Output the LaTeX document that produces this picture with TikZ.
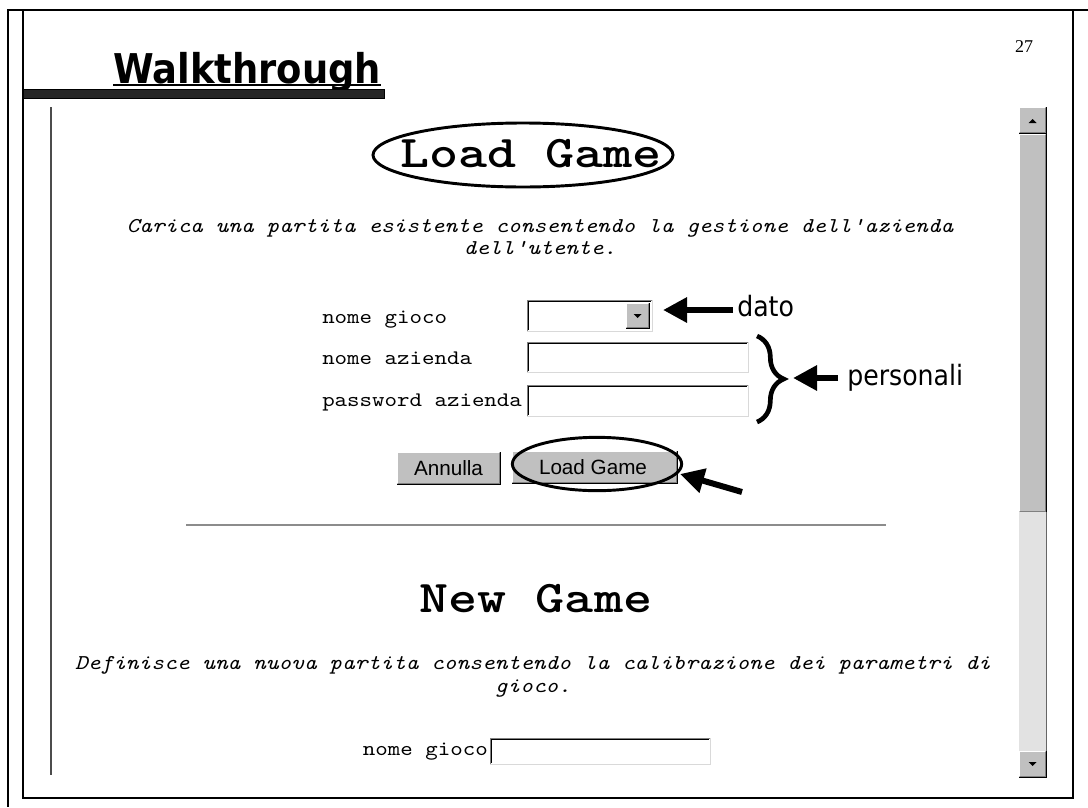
\documentclass[tikz,border=0pt]{standalone}
\usepackage{fontspec}
\setmainfont{Liberation Serif}
\newfontfamily\slidefont[FakeStretch=0.9]{DejaVu Sans}
\newfontfamily\webmono[Extension=.otf, UprightFont=lmmono10-regular,
  ItalicFont=lmmono10-italic, BoldFont=lmmonolt10-bold, FakeStretch=1.15]{lmmono10-regular}
\newfontfamily\headmono[Extension=.otf, UprightFont=lmmonolt10-bold,
  FakeStretch=1.22]{lmmonolt10-bold}
\newfontfamily\webui{Liberation Sans}
\usetikzlibrary{arrows.meta,decorations.pathreplacing,shapes.geometric}
\definecolor{btnface}{HTML}{C0C0C0}
\definecolor{btnshadow}{HTML}{808080}
\definecolor{track}{HTML}{E2E2E2}
\definecolor{rulegray}{HTML}{8C8C8C}
% sunken field: x1 y1 x2 y2
\newcommand{\sunkenbox}[4]{%
  \fill[white] (#1,#2) rectangle (#3,#4);
  \draw[btnshadow, line width=0.75pt] (#1,#4) -- (#1,#2) -- (#3,#2);
  \draw[black, line width=0.75pt] (#1+1,#4-1) -- (#1+1,#2+1) -- (#3-1,#2+1);
  \draw[btnface!60, line width=0.75pt] (#1,#4) -- (#3,#4) -- (#3,#2);
}
% raised button: x1 y1 x2 y2
\newcommand{\raisedbox}[4]{%
  \fill[btnface] (#1,#2) rectangle (#3,#4);
  \draw[white, line width=0.75pt] (#1+0.5,#4-1) -- (#1+0.5,#2+0.5) -- (#3-1,#2+0.5);
  \draw[btnshadow, line width=0.75pt] (#1+1,#4-1) -- (#3-1,#4-1) -- (#3-1,#2+1);
  \draw[black, line width=0.75pt] (#1,#4) -- (#3,#4) -- (#3,#2);
}
\tikzset{
  ring/.style   ={ellipse, draw=black, line width=2.2pt, inner sep=0pt},
  pointer/.style={line width=4.5pt, -{Triangle[length=18pt,width=18pt]}},
  monotxt/.style={font=\webmono\fontsize{15.5}{18}\selectfont, inner sep=0pt},
  desctxt/.style={font=\webmono\itshape\fontsize{15.8}{18}\selectfont, inner sep=0pt},
  headtxt/.style={font=\headmono\fontsize{34}{40}\selectfont, inner sep=0pt},
  uitxt/.style  ={font=\webui\fontsize{15.5}{18}\selectfont, inner sep=0pt},
  notetxt/.style={font=\slidefont\fontsize{21}{24}\selectfont, inner sep=0pt},
}
\begin{document}
\begin{tikzpicture}[x=0.75pt, y=-0.75pt]
\useasboundingbox (0,0) rectangle (1088,807);
% slide frame
\draw[line width=2pt] (8,10) -- (8,807);
\draw[line width=1.5pt] (7,10) -- (1088,10);
\draw[line width=1.2pt] (23,10) -- (23,798) -- (1073,798) -- (1073,10);
\node[font=\fontsize{13.5}{16}\selectfont] (pageno) at (1024,47) {27};
% title with bar
\node[anchor=base west, font=\slidefont\bfseries\fontsize{30.75}{36}\selectfont, inner sep=0pt] (title) at (113,83) {Walkthrough};
\draw[line width=1.3pt] ([yshift=-1.6pt]title.base west) -- ([yshift=-1.6pt]title.base east);
\draw[black, fill=black!85, line width=0.75pt] (23,89) rectangle (384,98);
% page margin line
\draw[line width=2.2pt, black!70] (51,107) -- (51,775);
% scrollbar
\raisedbox{1019}{107}{1046}{133}
\fill (1028.5,123) -- (1036.5,123) -- (1032.5,119) -- cycle;
\raisedbox{1019}{134}{1046}{512}
\fill[track] (1019,512) rectangle (1046,751);
\draw[black!60, line width=0.75pt] (1046,512) -- (1046,751);
\raisedbox{1019}{751}{1046}{777}
\fill (1028.5,762) -- (1036.5,762) -- (1032.5,766) -- cycle;
% load game form
\node[headtxt, anchor=base] (loadhead) at (531,167) {Load Game};
\node[ring, minimum width=225pt, minimum height=48pt] (headring) at (523,155) {};
\node[desctxt, anchor=base] (loaddesc) at (540,232) {Carica una partita esistente consentendo la gestione dell'azienda};
\node[desctxt, anchor=base] (loaddescb) at (540,254) {dell'utente.};
\node[monotxt, anchor=base west] (lblgame) at (322,323) {nome gioco};
\node[monotxt, anchor=base west] (lblfirm) at (322,364) {nome azienda};
\node[monotxt, anchor=base west] (lblpass) at (322,406) {password azienda};
\sunkenbox{527}{300}{652}{331}
\raisedbox{626}{303}{649}{328}
\fill (633.5,314) -- (641.5,314) -- (637.5,318) -- cycle;
\sunkenbox{527}{342}{748}{372}
\sunkenbox{527}{385}{748}{416}
\raisedbox{397}{452}{500}{484}
\node[uitxt] (cancel) at (448.5,468) {Annulla};
\raisedbox{512}{451}{677}{483}
\node[uitxt] (loadbtn) at (593,467) {Load Game};
\node[ring, minimum width=127pt, minimum height=40pt] (btnring) at (597,464) {};
% annotations
\node[notetxt, anchor=west] (dato) at (737,306) {dato};
\coordinate (datotail) at (733,310);
\coordinate (datotip) at (663,310);
\draw[pointer] (datotail) -- (datotip);
\coordinate (bracetop) at (757,336);
\coordinate (bracebot) at (757,422);
\draw[line width=3.5pt, decorate, decoration={brace, amplitude=20pt}] (bracetop) -- (bracebot);
\node[notetxt, anchor=west] (personali) at (847,378) {personali};
\coordinate (perstail) at (838,378);
\coordinate (perstip) at (793,378);
\draw[pointer] (perstail) -- (perstip);
\coordinate (btntail) at (742,492);
\coordinate (btntip) at (680,474);
\draw[pointer] (btntail) -- (btntip);
\draw[rulegray, line width=1.5pt] (186,525) -- (886,525);
% new game form
\node[headtxt, anchor=base] (newhead) at (536,612) {New Game};
\node[desctxt, anchor=base] (newdesc) at (533,669) {Definisce una nuova partita consentendo la calibrazione dei parametri di};
\node[desctxt, anchor=base] (newdescb) at (533,692) {gioco.};
\node[monotxt, anchor=base east] (lblnew) at (488,755) {nome gioco};
\sunkenbox{490}{738}{710}{764}
\end{tikzpicture}
\end{document}
